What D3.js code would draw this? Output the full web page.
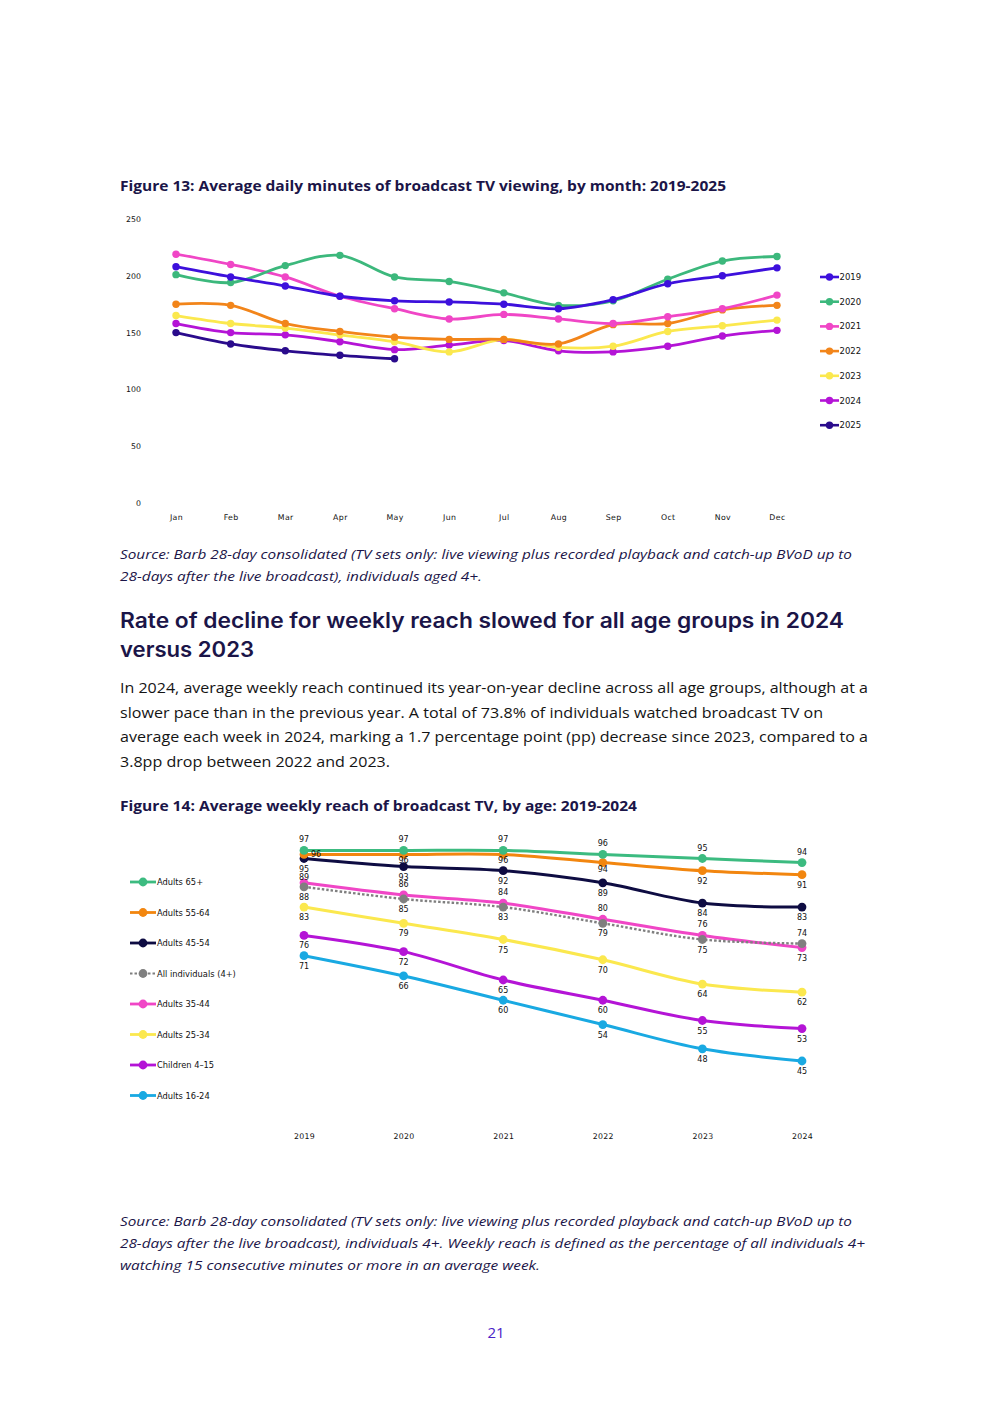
<!DOCTYPE html>
<html>
<head>
<meta charset="utf-8">
<script src="https://cdn.jsdelivr.net/npm/d3@7"></script>
<style>
  html, body { margin: 0; padding: 0; background: #fff; }
  svg { display: block; }
</style>
</head>
<body>
<svg id="page" width="992" height="1403"></svg>
<script>
// ── Data: Figure 13 ─────────────────────────────────────────────────────────
const months = ['Jan','Feb','Mar','Apr','May','Jun','Jul','Aug','Sep','Oct','Nov','Dec'];
const years13 = ['2019','2020','2021','2022','2023','2024','2025'];
const mins2019 = [208, 199, 191, 182, 178, 177, 175, 171, 179, 193, 200, 207];
const mins2020 = [201, 194, 209, 218, 199, 195, 185, 174, 178, 197, 213, 217];
const mins2021 = [219, 210, 199, 182, 171, 162, 166, 162, 158, 164, 171, 183];
const mins2022 = [175, 174, 158, 151, 146, 144, 144, 140, 157, 158, 170, 174];
const mins2023 = [165, 158, 154, 148, 142, 133, 144, 137, 138, 151, 156, 161];
const mins2024 = [158, 150, 148, 142, 135, 139, 143, 134, 133, 138, 147, 152];
const mins2025 = [150, 140, 134, 130, 127];
const yTicks13 = [0, 50, 100, 150, 200, 250];

// ── Data: Figure 14 ─────────────────────────────────────────────────────────
const years14 = ['2019','2020','2021','2022','2023','2024'];
const groups14 = ['Adults 65+','Adults 55-64','Adults 45-54','All individuals (4+)','Adults 35-44','Adults 25-34','Children 4\u201315','Adults 16-24'];
const reach65 = [97, 97, 97, 96, 95, 94];
const reach55 = [96, 96, 96, 94, 92, 91];
const reach45 = [95, 93, 92, 89, 84, 83];
const reachAll = [88, 85, 83, 79, 75, 74];
const reach35 = [89, 86, 84, 80, 76, 73];
const reach25 = [83, 79, 75, 70, 64, 62];
const reachKids = [76, 72, 65, 60, 55, 53];
const reach16 = [71, 66, 60, 54, 48, 45];

// ── Page ───────────────────────────────────────────────────────────────────
const svg = d3.select('#page');
const INK = '#1b1548';
const BODY = '"Open Sans", "Lato", sans-serif';

// lines of text, each stretched to the width it has on the printed page
function textLines(lines, widths, x, y0, lh, opts) {
  lines.forEach((t, i) => {
    svg.append('text')
      .attr('x', x).attr('y', y0 + i * lh)
      .attr('font-family', opts.family || BODY)
      .attr('font-size', opts.size)
      .attr('font-weight', opts.weight || 'normal')
      .attr('font-style', opts.style || 'normal')
      .attr('fill', opts.fill || INK)
      .attr('textLength', widths[i])
      .attr('lengthAdjust', 'spacingAndGlyphs')
      .text(t);
  });
}

textLines(['Figure 13: Average daily minutes of broadcast TV viewing, by month: 2019-2025'], [606],
  120, 191, 0, { size: 15, weight: 'bold' });

textLines([
  'Source: Barb 28-day consolidated (TV sets only: live viewing plus recorded playback and catch-up BVoD up to',
  '28-days after the live broadcast), individuals aged 4+.'
], [732, 362], 120, 559, 22, { size: 13.5, style: 'italic' });

textLines([
  'Rate of decline for weekly reach slowed for all age groups in 2024',
  'versus 2023'
], [724, 134], 120, 628, 29, { size: 21, weight: 600, family: '"Inter", sans-serif' });

textLines([
  'In 2024, average weekly reach continued its year-on-year decline across all age groups, although at a',
  'slower pace than in the previous year. A total of 73.8% of individuals watched broadcast TV on',
  'average each week in 2024, marking a 1.7 percentage point (pp) decrease since 2023, compared to a',
  '3.8pp drop between 2022 and 2023.'
], [748, 703, 748, 270], 120, 693, 24.5, { size: 15, fill: '#141414' });

textLines(['Figure 14: Average weekly reach of broadcast TV, by age: 2019-2024'], [517],
  120, 811, 0, { size: 15, weight: 'bold' });

textLines([
  'Source: Barb 28-day consolidated (TV sets only: live viewing plus recorded playback and catch-up BVoD up to',
  '28-days after the live broadcast), individuals 4+. Weekly reach is defined as the percentage of all individuals 4+',
  'watching 15 consecutive minutes or more in an average week.'
], [732, 745, 420], 120, 1226, 22, { size: 13.5, style: 'italic' });

svg.append('text').attr('x', 496).attr('y', 1338).attr('text-anchor', 'middle')
  .attr('font-family', BODY).attr('font-size', 15).attr('fill', '#4a22c8').text('21');

// ── Figure 13 chart ────────────────────────────────────────────────────────
const AXIS_FONT = '"DejaVu Sans", sans-serif';
const x13 = d3.scalePoint().domain(months).range([176, 777]);
const y13 = d3.scaleLinear().domain([0, 250]).range([503, 219]);

const series13 = [
  { name: years13[0], values: mins2019, color: '#3d10dc' },
  { name: years13[1], values: mins2020, color: '#3cb87c' },
  { name: years13[2], values: mins2021, color: '#f046c6' },
  { name: years13[3], values: mins2022, color: '#f2851a' },
  { name: years13[4], values: mins2023, color: '#fbe84e' },
  { name: years13[5], values: mins2024, color: '#b414d6' },
  { name: years13[6], values: mins2025, color: '#2a0b8c' }
];

const fig13 = svg.append('g');
const yAxis13 = fig13.append('g').attr('transform', 'translate(141,0)')
  .call(d3.axisLeft(y13).tickValues(yTicks13).tickSize(0).tickPadding(0));
yAxis13.select('.domain').remove();
yAxis13.selectAll('text').attr('font-family', AXIS_FONT).attr('font-size', 7.8).attr('fill', '#111');

const xAxis13 = fig13.append('g').attr('transform', 'translate(0,514)')
  .call(d3.axisBottom(x13).tickSize(0).tickPadding(0));
xAxis13.select('.domain').remove();
xAxis13.selectAll('text').attr('font-family', AXIS_FONT).attr('font-size', 7.8).attr('fill', '#111')
  .attr('letter-spacing', 0.4);

const line13 = d3.line().x((d, i) => x13(months[i])).y(d => y13(d)).curve(d3.curveCatmullRom);

series13.slice().reverse().forEach(s => {
  const g = fig13.append('g');
  g.append('path').attr('d', line13(s.values))
    .attr('fill', 'none').attr('stroke', s.color).attr('stroke-width', 2.8);
  g.selectAll('circle').data(s.values).join('circle')
    .attr('cx', (d, i) => x13(months[i])).attr('cy', d => y13(d))
    .attr('r', 3.7).attr('fill', s.color);
});

// legend
const leg13 = fig13.append('g');
series13.forEach((s, i) => {
  const ly = 277 + i * 24.7;
  leg13.append('line').attr('x1', 820).attr('x2', 839).attr('y1', ly).attr('y2', ly)
    .attr('stroke', s.color).attr('stroke-width', 2.6);
  leg13.append('circle').attr('cx', 829.5).attr('cy', ly).attr('r', 3.7).attr('fill', s.color);
  leg13.append('text').attr('x', 839.5).attr('y', ly + 3)
    .attr('font-family', AXIS_FONT).attr('font-size', 8.5).attr('fill', '#111').text(s.name);
});

// ── Figure 14 chart ────────────────────────────────────────────────────────
const x14 = d3.scalePoint().domain(years14).range([304, 802]);
const y14 = d3.scaleLinear().domain([45, 97]).range([1061, 850.4]);

// label place: 'a' above, 'A' tight above, 'b' below, 'B' tight below, 'r' right
const series14 = [
  { name: groups14[0], values: reach65,   color: '#3cbb80', pos: ['a','a','a','a','a','a'] },
  { name: groups14[1], values: reach55,   color: '#f2860f', pos: ['r','B','B','B','b','b'] },
  { name: groups14[2], values: reach45,   color: '#0e0c42', pos: ['b','b','b','b','b','b'] },
  { name: groups14[3], values: reachAll,  color: '#7f7f7f', pos: ['b','b','b','b','b','a'], dash: true },
  { name: groups14[4], values: reach35,   color: '#f046c6', pos: ['A','a','a','a','a','b'] },
  { name: groups14[5], values: reach25,   color: '#fbe84e', pos: ['b','b','b','b','b','b'] },
  { name: groups14[6], values: reachKids, color: '#b414d6', pos: ['b','b','b','b','b','b'] },
  { name: groups14[7], values: reach16,   color: '#19a9e2', pos: ['b','b','b','b','b','b'] }
];
const labelDy = { a: -8, A: -3, b: 13, B: 9, r: 3 };

const fig14 = svg.append('g');
const xAxis14 = fig14.append('g').attr('transform', 'translate(0,1133)')
  .call(d3.axisBottom(x14).tickSize(0).tickPadding(0));
xAxis14.select('.domain').remove();
xAxis14.selectAll('text').attr('font-family', AXIS_FONT).attr('font-size', 7.8).attr('fill', '#111')
  .attr('letter-spacing', 0.3);

const line14 = d3.line().x((d, i) => x14(years14[i])).y(d => y14(d)).curve(d3.curveCatmullRom);

// bottom groups first so upper lines sit on top, dotted 'All' over pink
[7, 6, 5, 4, 3, 2, 1, 0].forEach(k => {
  const s = series14[k];
  const g = fig14.append('g');
  g.append('path').attr('d', line14(s.values))
    .attr('fill', 'none').attr('stroke', s.color)
    .attr('stroke-width', s.dash ? 2.4 : 3)
    .attr('stroke-dasharray', s.dash ? '2.5,2' : null);
  g.selectAll('circle').data(s.values).join('circle')
    .attr('cx', (d, i) => x14(years14[i])).attr('cy', d => y14(d))
    .attr('r', 4.4).attr('fill', s.color);
});

series14.forEach(s => {
  fig14.append('g').selectAll('text').data(s.values).join('text')
    .attr('x', (d, i) => x14(years14[i]) + (s.pos[i] === 'r' ? 12 : 0))
    .attr('y', (d, i) => y14(d) + labelDy[s.pos[i]])
    .attr('text-anchor', 'middle')
    .attr('font-family', AXIS_FONT).attr('font-size', 8).attr('fill', '#111')
    .text(d => d);
});

// legend
const leg14 = fig14.append('g');
series14.forEach((s, i) => {
  const ly = 882 + i * 30.5;
  leg14.append('line').attr('x1', 130).attr('x2', 156).attr('y1', ly).attr('y2', ly)
    .attr('stroke', s.color).attr('stroke-width', s.dash ? 2.2 : 2.8)
    .attr('stroke-dasharray', s.dash ? '2.5,2' : null);
  leg14.append('circle').attr('cx', 143).attr('cy', ly).attr('r', 4.4).attr('fill', s.color);
  leg14.append('text').attr('x', 157).attr('y', ly + 3)
    .attr('font-family', AXIS_FONT).attr('font-size', 8.3).attr('fill', '#111').text(s.name);
});
</script>
</body>
</html>
